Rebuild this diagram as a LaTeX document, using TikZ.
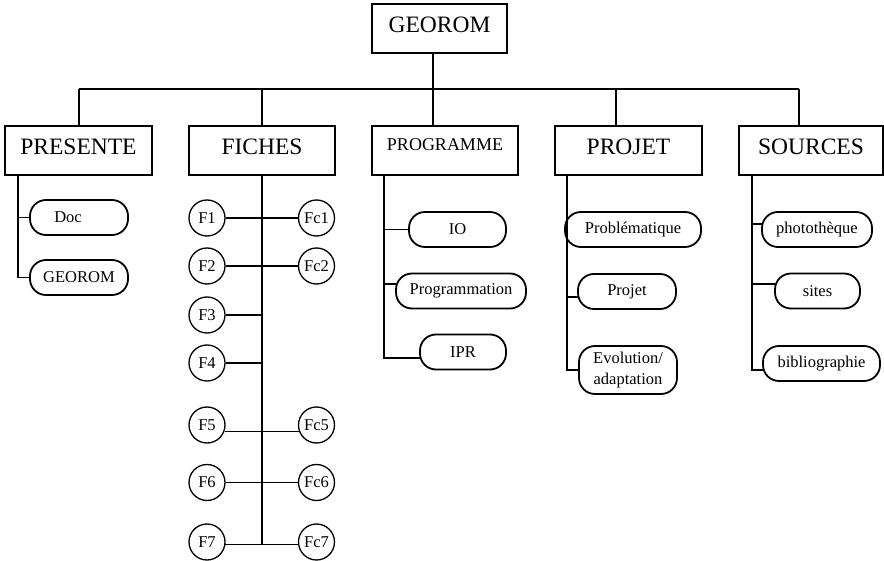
\documentclass[tikz,border=0pt]{standalone}
\usepackage{fontspec}
\setmainfont{Liberation Serif}
\begin{document}
\begin{tikzpicture}[x=1pt,y=-1pt,
  conn/.style={line width=1.3pt},
  topbox/.style={draw, line width=1.4pt, minimum width=#1, minimum height=49pt, inner sep=0pt, text depth=8pt, font=\fontsize{23.5}{26}\selectfont},
  pill/.style={draw, line width=1.8pt, rounded corners=16pt, minimum width=#1, minimum height=35pt, inner sep=0pt, font=\fontsize{16.5}{19}\selectfont, align=center},
  fcirc/.style={draw, circle, line width=1.3pt, minimum size=36pt, inner sep=0pt, font=\fontsize{16.5}{19}\selectfont}]
\useasboundingbox (0,0) rectangle (884,561);

% top level
\node[topbox=135pt, text depth=7pt] (root) at (439.5,28.5) {GEOROM};
\node[topbox=147pt] (pres) at (78.5,150.5) {PRESENTE};
\node[topbox=146pt] (fich) at (262,150.5) {FICHES};
\node[topbox=146pt, text depth=12pt, font=\fontsize{18}{20}\selectfont] (prog) at (445,150.5) {PROGRAMME};
\node[topbox=147pt] (proj) at (628.5,150.5) {PROJET};
\node[topbox=144pt] (src) at (811,150.5) {SOURCES};

% pills
\node[pill=98pt] (doc) at (79,217.5) {Doc\hspace*{22pt}};
\node[pill=98pt] (geo) at (79,277.5) {GEOROM};
\node[pill=97pt] (io) at (457.5,229.5) {IO};
\node[pill=130pt] (prm) at (461,291) {Programmation};
\node[pill=86pt] (ipr) at (463,352) {IPR};
\node[pill=136pt] (pbm) at (633,229.5) {Problématique};
\node[pill=98pt] (pjt) at (627,291.5) {Projet};
\node[pill=98pt, minimum height=48pt, font=\fontsize{16.5}{20.5}\selectfont] (evo) at (628,370) {Evolution/\\adaptation};
\node[pill=110pt] (pho) at (817,229.5) {photothèque};
\node[pill=85pt] (sit) at (817.5,291) {sites};
\node[pill=117pt] (bib) at (821.5,363.5) {bibliographie};

% circles
\node[fcirc] (F1) at (207,218) {F1};
\node[fcirc] (Fc1) at (316.5,218) {Fc1};
\node[fcirc] (F2) at (207,266) {F2};
\node[fcirc] (Fc2) at (316.5,266) {Fc2};
\node[fcirc] (F3) at (207,315) {F3};
\node[fcirc] (F4) at (207,363) {F4};
\node[fcirc] (F5) at (207,425) {F5};
\node[fcirc] (Fc5) at (316.5,425) {Fc5};
\node[fcirc] (F6) at (207,482.5) {F6};
\node[fcirc] (Fc6) at (316.5,482.5) {Fc6};
\node[fcirc] (F7) at (207,542) {F7};
\node[fcirc] (Fc7) at (316.5,542) {Fc7};

% bar
\coordinate (j1) at (79,89);
\coordinate (j2) at (262,89);
\coordinate (j3) at (433,89);
\coordinate (j4) at (616,89);
\coordinate (j5) at (799,89);
\draw[conn] (j1) -- (j5);
\draw[conn] (root.south -| j3) -- (j3);
\foreach \j/\n in {j1/pres, j2/fich, j3/prog, j4/proj, j5/src}
  \draw[conn] (\j) -- (\j |- \n.north);

% PRESENTE
\coordinate (s1) at (18,175);
\draw[conn] (s1) |- (geo.west);
\draw[conn] (s1 |- doc.west) -- (doc.west);

% FICHES
\draw[conn] (fich.south) -- (fich.south |- F7.-8);
\draw[conn] (F1.east) -- (Fc1.west);
\draw[conn] (F2.east) -- (Fc2.west);
\draw[conn] (F3.east) -- (F3.east -| fich.south);
\draw[conn] (F4.east) -- (F4.east -| fich.south);
\draw[conn] (F5.-20) -- (Fc5.200);
\draw[conn] (F6.east) -- (Fc6.west);
\draw[conn] (F7.-8) -- (Fc7.188);

% PROGRAMME
\coordinate (s3) at (384,175);
\draw[conn] (s3) |- ([yshift=-6pt,xshift=0.8pt]ipr.west);
\draw[conn] (s3 |- io.west) -- (io.west);
\draw[conn] ([yshift=7pt]prm.west -| s3) -- ([yshift=7pt,xshift=1pt]prm.west);

% PROJET
\coordinate (s4) at (567,175);
\draw[conn] (s4) |- (evo.west);
\draw[conn] ([yshift=-5.5pt]pjt.west -| s4) -- ([yshift=-5.5pt,xshift=0.5pt]pjt.west);

% SOURCES
\coordinate (s5) at (752,175);
\draw[conn] (s5) |- ([yshift=-6.5pt,xshift=0.8pt]bib.west);
\draw[conn] ([yshift=5.5pt]pho.west -| s5) -- ([yshift=5.5pt,xshift=0.5pt]pho.west);
\draw[conn] ([yshift=7pt]sit.west -| s5) -- ([yshift=7pt,xshift=1pt]sit.west);
\end{tikzpicture}
\end{document}
